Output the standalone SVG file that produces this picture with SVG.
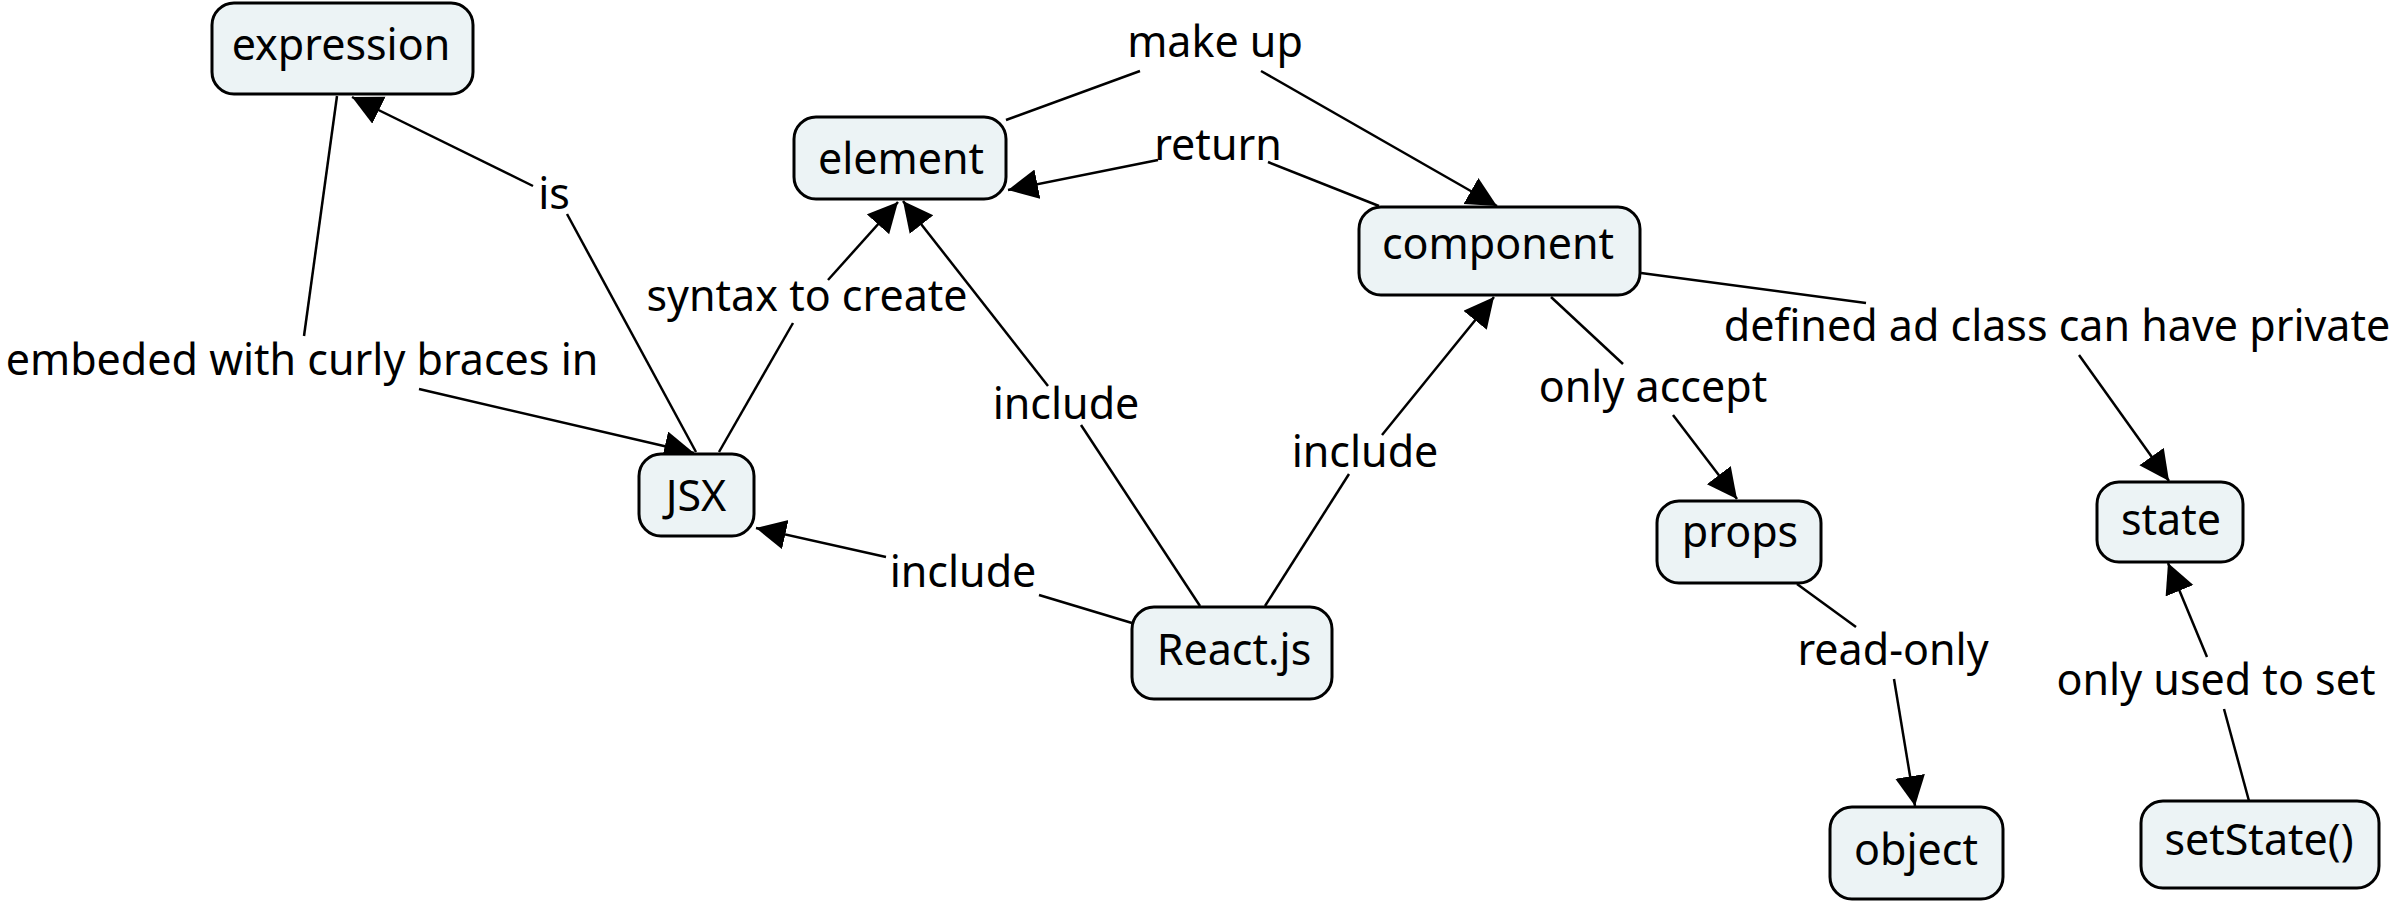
<svg xmlns="http://www.w3.org/2000/svg" width="2403" height="908" viewBox="0 0 2403 908">
<defs>
<marker id="arr" markerUnits="userSpaceOnUse" markerWidth="32" markerHeight="32" refX="30" refY="15" orient="auto">
<path d="M0,0 L30,15 L0,30 z" fill="#000"/>
</marker>
<style>
.node rect{fill:#ECF3F5;stroke:#000;stroke-width:3}
text{font-family:"Noto Sans","Open Sans",sans-serif;font-size:43px;fill:#000;text-anchor:middle}
.c line{stroke:#000;stroke-width:2.5;fill:none}
.c .a{marker-end:url(#arr)}
</style>
</defs>
<rect width="2403" height="908" fill="#fff"/>
<g class="c" id="connectors">
<line x1="696" y1="452" x2="567" y2="214"/>
<line class="a" x1="533" y1="186" x2="352" y2="97"/>
<text x="554" y="209">is</text>
<line x1="337" y1="96" x2="304" y2="336"/>
<line class="a" x1="419" y1="389" x2="694" y2="453"/>
<text x="302" y="375">embeded with curly braces in</text>
<line x1="719" y1="452" x2="793" y2="323"/>
<line class="a" x1="828" y1="280" x2="898" y2="202"/>
<text x="807" y="311">syntax to create</text>
<line x1="1200" y1="606" x2="1081" y2="425"/>
<line class="a" x1="1048" y1="386" x2="903" y2="201"/>
<text x="1066" y="419">include</text>
<line x1="1265" y1="606" x2="1349" y2="474"/>
<line class="a" x1="1382" y1="435" x2="1494" y2="297"/>
<text x="1365" y="467">include</text>
<line x1="1132" y1="623" x2="1039" y2="595"/>
<line class="a" x1="886" y1="557" x2="756" y2="528"/>
<text x="963" y="587">include</text>
<line x1="1006" y1="120" x2="1140" y2="71"/>
<line class="a" x1="1261" y1="71" x2="1497" y2="206"/>
<text x="1215" y="57">make up</text>
<line x1="1379" y1="206" x2="1268" y2="162"/>
<line class="a" x1="1158" y1="160" x2="1008" y2="190"/>
<text x="1218" y="160">return</text>
<line x1="1551" y1="297" x2="1623" y2="364"/>
<line class="a" x1="1673" y1="415" x2="1737" y2="499"/>
<text x="1653" y="402">only accept</text>
<line x1="1641" y1="273" x2="1866" y2="303"/>
<line class="a" x1="2079" y1="355" x2="2169" y2="481"/>
<text x="2057" y="341">defined ad class can have private</text>
<line x1="1797" y1="584" x2="1856" y2="627"/>
<line class="a" x1="1894" y1="679" x2="1915" y2="806"/>
<text x="1893" y="665">read-only</text>
<line x1="2249" y1="801" x2="2224" y2="709"/>
<line class="a" x1="2207" y1="657" x2="2168" y2="563"/>
<text x="2216" y="695">only used to set</text>
</g>
<g class="node" id="expression"><rect x="212" y="3" width="261" height="91" rx="22"/><text x="341" y="60">expression</text></g>
<g class="node" id="element"><rect x="794" y="117" width="212" height="82" rx="22"/><text x="901" y="174">element</text></g>
<g class="node" id="component"><rect x="1359" y="207" width="281" height="88" rx="22"/><text x="1498" y="259">component</text></g>
<g class="node" id="jsx"><rect x="639" y="454" width="115" height="82" rx="22"/><text x="696" y="511">JSX</text></g>
<g class="node" id="reactjs"><rect x="1132" y="607" width="200" height="92" rx="22"/><text x="1234" y="665">React.js</text></g>
<g class="node" id="props"><rect x="1657" y="501" width="164" height="82" rx="22"/><text x="1740" y="547">props</text></g>
<g class="node" id="state"><rect x="2097" y="482" width="146" height="80" rx="22"/><text x="2171" y="535">state</text></g>
<g class="node" id="object"><rect x="1830" y="807" width="173" height="92" rx="22"/><text x="1916" y="865">object</text></g>
<g class="node" id="setstate"><rect x="2141" y="801" width="238" height="87" rx="22"/><text x="2259" y="855">setState()</text></g>
</svg>
